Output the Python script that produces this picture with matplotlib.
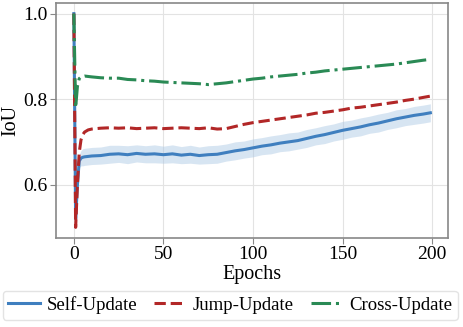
import numpy as np
import matplotlib
matplotlib.use("Agg")
import matplotlib.pyplot as plt

epochs = [0, 1, 2, 3, 4, 5, 6, 8, 10, 15, 20, 25, 30, 35, 40, 45, 50, 55, 60, 65,
          70, 75, 80, 85, 90, 95, 100, 105, 110, 115, 120, 125, 130, 135, 140,
          145, 150, 155, 160, 165, 170, 175, 180, 185, 190, 195, 199]

self_update = [1.0, 0.52, 0.60, 0.655, 0.662, 0.664, 0.665, 0.666, 0.667, 0.668,
               0.671, 0.672, 0.670, 0.673, 0.671, 0.672, 0.670, 0.672, 0.669, 0.671,
               0.668, 0.670, 0.671, 0.675, 0.679, 0.682, 0.686, 0.690, 0.693, 0.697,
               0.700, 0.703, 0.708, 0.713, 0.717, 0.722, 0.727, 0.731, 0.735, 0.740,
               0.744, 0.749, 0.754, 0.758, 0.762, 0.765, 0.768]

self_std = [0.0, 0.005, 0.01, 0.015, 0.018, 0.02, 0.02, 0.02, 0.02, 0.02,
            0.021, 0.02, 0.021, 0.02, 0.02, 0.021, 0.02, 0.021, 0.02, 0.021,
            0.02, 0.021, 0.021, 0.02, 0.021, 0.02, 0.021, 0.02, 0.021, 0.02,
            0.021, 0.02, 0.021, 0.02, 0.021, 0.02, 0.021, 0.02, 0.021, 0.02,
            0.021, 0.02, 0.021, 0.02, 0.021, 0.021, 0.021]

jump_update = [1.0, 0.50, 0.60, 0.675, 0.705, 0.717, 0.723, 0.728, 0.730, 0.732,
               0.733, 0.732, 0.733, 0.731, 0.732, 0.733, 0.731, 0.732, 0.733, 0.732,
               0.731, 0.733, 0.730, 0.731, 0.736, 0.741, 0.745, 0.748, 0.751, 0.754,
               0.757, 0.760, 0.763, 0.767, 0.769, 0.772, 0.775, 0.779, 0.781, 0.784,
               0.787, 0.790, 0.793, 0.797, 0.800, 0.804, 0.807]

cross_update = [1.0, 0.78, 0.83, 0.848, 0.852, 0.853, 0.854, 0.853, 0.852, 0.850,
                0.849, 0.849, 0.846, 0.845, 0.843, 0.842, 0.840, 0.839, 0.838, 0.837,
                0.836, 0.834, 0.836, 0.838, 0.841, 0.844, 0.847, 0.849, 0.852, 0.854,
                0.856, 0.858, 0.861, 0.863, 0.866, 0.868, 0.870, 0.872, 0.874, 0.876,
                0.878, 0.880, 0.882, 0.885, 0.888, 0.891, 0.893]

plt.rcParams['font.family'] = ['Liberation Serif', 'DejaVu Serif']

fig = plt.figure(figsize=(4.63, 3.27), dpi=100)
ax = fig.add_axes([0.121, 0.272, 0.847, 0.719])

x = np.array(epochs)
s = np.array(self_update)
sd = np.array(self_std)

ax.fill_between(x, s - sd, s + sd, color='#a8c6e3', alpha=0.45, linewidth=0)
ax.plot(x, s, color='#3f7fbf', lw=2.2, ls='-', label='Self-Update')
ax.plot(x, jump_update, color='#b22727', lw=2.2, ls='--', label='Jump-Update')
ax.plot(x, cross_update, color='#2a8a55', lw=2.2, ls='-.', label='Cross-Update')

ax.set_xlabel('Epochs', fontsize=14.5, labelpad=1)
ax.set_ylabel('IoU', fontsize=14.5, labelpad=2)
ax.set_xticks([0, 50, 100, 150, 200])
ax.set_yticks([0.6, 0.8, 1.0])
ax.tick_params(labelsize=14, length=4, color='#888888', pad=2)

ax.grid(True, color='#e3e3e3', linewidth=0.8)
ax.set_axisbelow(True)
for sp in ax.spines.values():
    sp.set_color('#888888')
    sp.set_linewidth(1.2)

fig.legend(loc='center', bbox_to_anchor=(0.497, 0.067), ncol=3, fontsize=13.5,
           frameon=True, edgecolor='#dddddd', handlelength=1.7, columnspacing=0.9,
           handletextpad=0.35, borderpad=0.3, borderaxespad=0.2)

fig.savefig('out.png', dpi=100)
